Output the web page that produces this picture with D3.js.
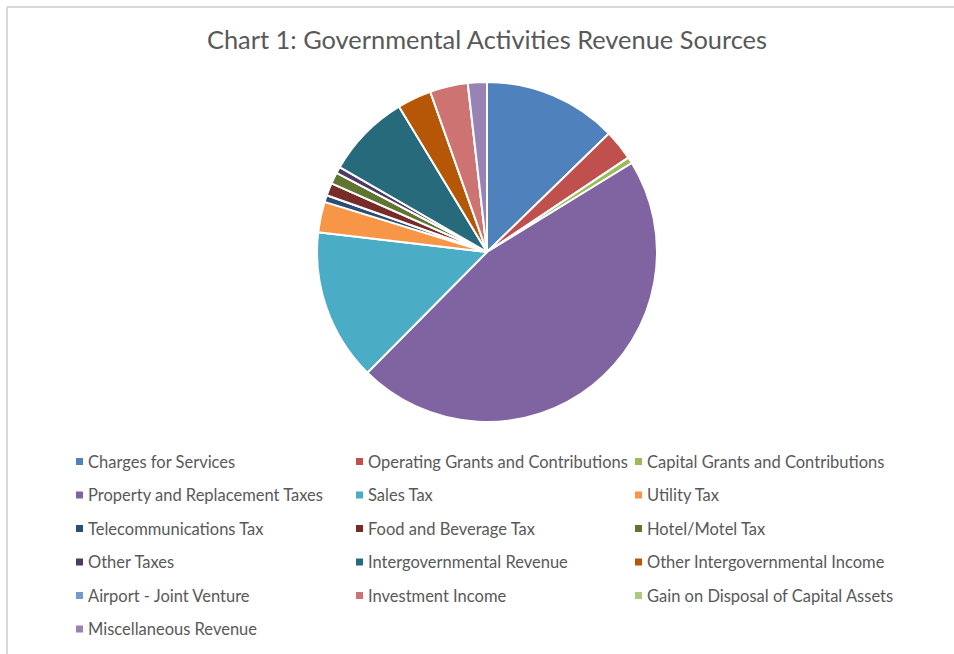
<!DOCTYPE html>
<html>
<head>
<meta charset="utf-8">
<script src="https://cdn.jsdelivr.net/npm/d3@7"></script>
<style>
  html, body { margin: 0; padding: 0; background: #fff; }
  svg { display: block; }
</style>
</head>
<body>
<svg id="chart" width="954" height="654"></svg>
<script>
// Revenue source categories (legend order = slice order, clockwise from 12 o'clock)
const categories = [
  "Charges for Services",
  "Operating Grants and Contributions",
  "Capital Grants and Contributions",
  "Property and Replacement Taxes",
  "Sales Tax",
  "Utility Tax",
  "Telecommunications Tax",
  "Food and Beverage Tax",
  "Hotel/Motel Tax",
  "Other Taxes",
  "Intergovernmental Revenue",
  "Other Intergovernmental Income",
  "Airport - Joint Venture",
  "Investment Income",
  "Gain on Disposal of Capital Assets",
  "Miscellaneous Revenue"
];

// Share of total governmental revenue, percent
const shares = [12.7, 2.9, 0.6, 46.1, 14.4, 2.9, 0.65, 1.2, 1.1, 0.6, 8.0, 3.25, 0.0, 3.6, 0.0, 1.8];

const palette = [
  "#4F81BD", "#C0504D", "#9BBB59", "#8064A2", "#4BACC6", "#F79646",
  "#2C4D75", "#772C2A", "#5F7530", "#4D3B62", "#276A7C", "#B65708",
  "#729ACA", "#CD7371", "#AFC97A", "#9983B5"
];

const titleText = "Chart 1: Governmental Activities Revenue Sources";

const data = categories.map((c, i) => ({ name: c, value: shares[i] }));

const svg = d3.select("#chart");
const W = 954, H = 654;

// chart-area frame (only top and left edges are inside the view)
svg.append("line").attr("x1", 7).attr("y1", 7).attr("x2", W).attr("y2", 7)
  .attr("stroke", "#d9d9d9").attr("stroke-width", 2);
svg.append("line").attr("x1", 7).attr("y1", 7).attr("x2", 7).attr("y2", H)
  .attr("stroke", "#d9d9d9").attr("stroke-width", 2);

svg.append("text")
  .attr("x", 487).attr("y", 49)
  .attr("text-anchor", "middle")
  .attr("font-family", "Lato, 'Open Sans', sans-serif")
  .attr("font-size", 25.4)
  .attr("fill", "#595959")
  .text(titleText);

const color = d3.scaleOrdinal().domain(categories).range(palette);

const cx = 487, cy = 252, radius = 170;

const pie = d3.pie().value(d => d.value).sort(null);
const arc = d3.arc().innerRadius(0).outerRadius(radius);

svg.append("g")
  .attr("transform", `translate(${cx},${cy})`)
  .selectAll("path")
  .data(pie(data))
  .join("path")
  .attr("d", arc)
  .attr("fill", d => color(d.data.name))
  .attr("stroke", "#fff")
  .attr("stroke-width", 2)
  .attr("stroke-linejoin", "round");

// legend: three columns, row-major
const colX = [76, 356, 635];
const rowY0 = 462, rowStep = 33.5;

const legend = svg.append("g")
  .selectAll("g")
  .data(categories)
  .join("g")
  .attr("transform", (d, i) => `translate(${colX[i % 3]},${rowY0 + Math.floor(i / 3) * rowStep})`);

legend.append("rect")
  .attr("x", 0).attr("y", -4)
  .attr("width", 7).attr("height", 7)
  .attr("fill", d => color(d));

legend.append("text")
  .attr("x", 12).attr("y", 0)
  .attr("dy", "0.35em")
  .attr("font-family", "Lato, 'Open Sans', sans-serif")
  .attr("font-size", 16.5)
  .attr("fill", "#595959")
  .text(d => d);
</script>
</body>
</html>
